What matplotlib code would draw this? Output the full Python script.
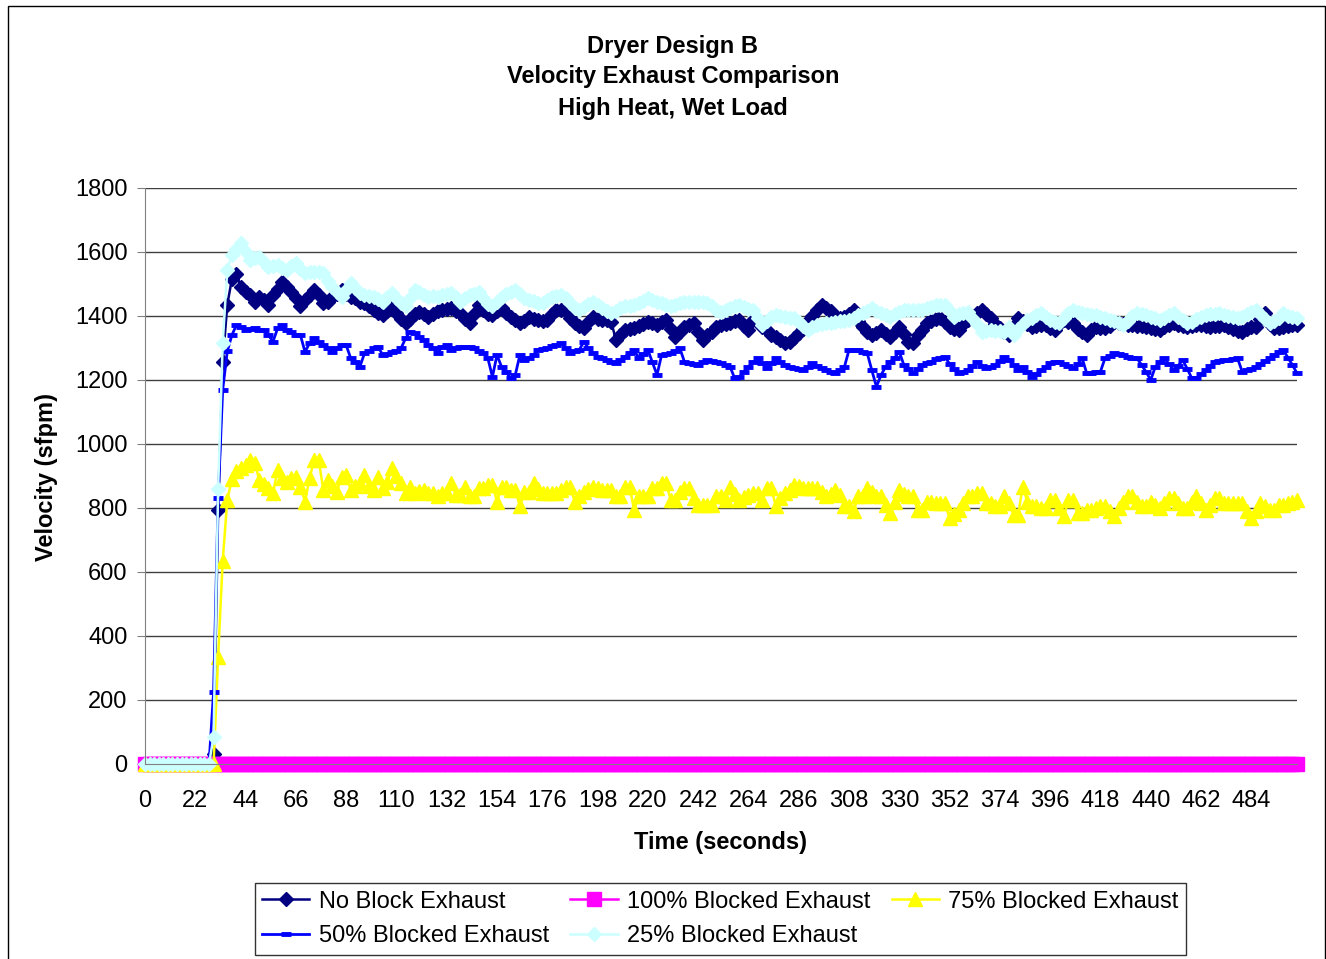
import numpy as np
import matplotlib
matplotlib.use("Agg")
import matplotlib.pyplot as plt
from matplotlib.patches import Rectangle

plt.rcParams['font.family'] = ['Liberation Sans', 'DejaVu Sans']

# velocity (sfpm) read every 2 seconds, one row = 20 seconds
no_block = [
    0, 0, 0, 0, 0, 0, 0, 0, 0, 0,
    0, 0, 0, 0, 0, 30, 795, 1255, 1435, 1515,
    1530, 1490, 1475, 1465, 1445, 1460, 1450, 1435, 1465, 1485,
    1505, 1490, 1476, 1455, 1430, 1450, 1466, 1480, 1465, 1440,
    1445, 1460, 1470, 1481, 1470, 1460, 1455, 1445, 1440, 1430,
    1420, 1410, 1403, 1415, 1430, 1410, 1390, 1377, 1390, 1405,
    1413, 1405, 1398, 1405, 1415, 1419, 1422, 1424, 1415, 1408,
    1390, 1377, 1405, 1434, 1420, 1405, 1403, 1415, 1424, 1410,
    1398, 1388, 1377, 1385, 1398, 1392, 1388, 1385, 1388, 1405,
    1419, 1420, 1415, 1395, 1377, 1368, 1361, 1380, 1398, 1392,
    1388, 1386, 1382, 1325, 1340, 1356, 1358, 1361, 1368, 1375,
    1382, 1378, 1372, 1380, 1388, 1360, 1335, 1350, 1367, 1372,
    1377, 1350, 1325, 1340, 1350, 1365, 1372, 1375, 1377, 1383,
    1388, 1370, 1356, 1388, 1380, 1367, 1355, 1340, 1333, 1325,
    1315, 1318, 1330, 1346, 1360, 1385, 1400, 1420, 1434, 1425,
    1415, 1400, 1393, 1396, 1405, 1419, 1385, 1365, 1350, 1340,
    1348, 1356, 1345, 1335, 1350, 1367, 1345, 1320, 1315, 1340,
    1356, 1377, 1383, 1390, 1393, 1380, 1367, 1360, 1356, 1375,
    1388, 1400, 1410, 1419, 1405, 1393, 1375, 1361, 1350, 1342,
    1370, 1393, 1385, 1375, 1367, 1370, 1372, 1372, 1362, 1356,
    1375, 1388, 1382, 1377, 1360, 1350, 1340, 1355, 1367, 1362,
    1361, 1370, 1382, 1378, 1375, 1372, 1372, 1370, 1368, 1367,
    1362, 1358, 1356, 1365, 1372, 1377, 1372, 1368, 1367, 1370,
    1372, 1372, 1370, 1367, 1368, 1370, 1372, 1365, 1358, 1352,
    1351, 1358, 1365, 1367, 1390, 1408, 1375, 1361, 1364, 1367,
    1370, 1372, 1372,
]

blocked_25 = [
    0, 0, 0, 0, 0, 0, 0, 0, 0, 0,
    0, 0, 0, 0, 0, 85, 860, 1315, 1545, 1590,
    1610, 1627, 1600, 1575, 1580, 1585, 1570, 1554, 1555, 1559,
    1550, 1544, 1555, 1565, 1548, 1533, 1536, 1539, 1536, 1533,
    1510, 1490, 1475, 1460, 1480, 1502, 1488, 1471, 1465, 1462,
    1460, 1452, 1445, 1458, 1471, 1455, 1440, 1430, 1455, 1481,
    1475, 1465, 1460, 1462, 1460, 1465, 1468, 1471, 1460, 1445,
    1455, 1465, 1470, 1476, 1455, 1438, 1430, 1445, 1460, 1468,
    1475, 1481, 1470, 1455, 1450, 1446, 1442, 1440, 1450, 1458,
    1462, 1466, 1455, 1440, 1425, 1419, 1428, 1437, 1445, 1435,
    1425, 1415, 1408, 1415, 1425, 1430, 1432, 1434, 1440, 1448,
    1455, 1450, 1445, 1440, 1435, 1430, 1435, 1440, 1445, 1445,
    1445, 1445, 1445, 1440, 1430, 1420, 1413, 1419, 1425, 1430,
    1434, 1428, 1422, 1419, 1395, 1372, 1385, 1398, 1403, 1400,
    1397, 1395, 1393, 1380, 1368, 1356, 1365, 1372, 1375, 1377,
    1377, 1380, 1383, 1385, 1388, 1395, 1402, 1408, 1415, 1424,
    1415, 1408, 1402, 1398, 1405, 1412, 1419, 1419, 1418, 1419,
    1419, 1424, 1428, 1434, 1434, 1434, 1416, 1398, 1405, 1410,
    1413, 1395, 1375, 1351, 1354, 1356, 1354, 1352, 1351, 1367,
    1340, 1360, 1375, 1388, 1395, 1402, 1408, 1398, 1388, 1380,
    1377, 1395, 1410, 1419, 1413, 1408, 1406, 1404, 1403, 1398,
    1393, 1388, 1383, 1378, 1372, 1385, 1400, 1408, 1405, 1403,
    1398, 1393, 1388, 1395, 1402, 1408, 1398, 1388, 1377, 1382,
    1390, 1398, 1403, 1405, 1406, 1408, 1404, 1400, 1396, 1393,
    1398, 1405, 1412, 1419, 1405, 1390, 1377, 1385, 1395, 1408,
    1400, 1396, 1393,
]

blocked_50 = [
    0, 0, 0, 0, 0, 0, 0, 0, 0, 0,
    0, 0, 0, 0, 0, 225, 830, 1170, 1290, 1340,
    1372, 1365, 1356, 1360, 1361, 1356, 1356, 1340, 1320, 1361,
    1372, 1356, 1350, 1340, 1340, 1288, 1315, 1330, 1320, 1309,
    1299, 1288, 1300, 1309, 1309, 1268, 1255, 1241, 1283, 1290,
    1299, 1304, 1278, 1280, 1288, 1290, 1299, 1330, 1351, 1346,
    1335, 1325, 1309, 1300, 1283, 1304, 1309, 1294, 1300, 1304,
    1304, 1302, 1299, 1290, 1283, 1268, 1210, 1278, 1241, 1225,
    1205, 1216, 1278, 1262, 1270, 1278, 1294, 1296, 1299, 1305,
    1310, 1315, 1300, 1283, 1290, 1294, 1320, 1299, 1285, 1273,
    1268, 1262, 1257, 1252, 1262, 1273, 1285, 1294, 1268, 1280,
    1294, 1255, 1216, 1278, 1280, 1283, 1291, 1299, 1257, 1252,
    1250, 1247, 1255, 1262, 1260, 1257, 1252, 1247, 1241, 1205,
    1210, 1225, 1241, 1255, 1268, 1252, 1236, 1252, 1268, 1255,
    1247, 1241, 1236, 1234, 1231, 1240, 1252, 1244, 1236, 1230,
    1225, 1221, 1230, 1241, 1294, 1294, 1294, 1288, 1283, 1230,
    1179, 1215, 1241, 1257, 1270, 1288, 1247, 1235, 1221, 1234,
    1247, 1252, 1257, 1265, 1270, 1273, 1250, 1235, 1221, 1226,
    1231, 1244, 1257, 1245, 1236, 1241, 1247, 1260, 1273, 1262,
    1247, 1231, 1241, 1225, 1210, 1220, 1231, 1241, 1252, 1255,
    1257, 1250, 1243, 1236, 1250, 1268, 1221, 1222, 1224, 1226,
    1268, 1275, 1283, 1280, 1277, 1273, 1270, 1268, 1247, 1225,
    1200, 1241, 1255, 1268, 1250, 1231, 1245, 1262, 1235, 1205,
    1205, 1218, 1231, 1244, 1257, 1260, 1262, 1264, 1266, 1268,
    1226, 1230, 1235, 1241, 1250, 1259, 1268, 1277, 1286, 1294,
    1270, 1247, 1221,
]

blocked_75 = [
    0, 0, 0, 0, 0, 0, 0, 0, 0, 0,
    0, 0, 0, 0, 0, 0, 335, 635, 825, 890,
    915, 925, 935, 950, 940, 888, 875, 862, 846, 919,
    893, 880, 895, 898, 867, 820, 893, 950, 950, 857,
    888, 870, 851, 898, 903, 857, 870, 877, 903, 870,
    857, 898, 862, 880, 924, 900, 877, 846, 867, 846,
    852, 857, 846, 846, 836, 846, 846, 877, 841, 841,
    867, 836, 836, 862, 862, 872, 872, 820, 867, 867,
    857, 857, 805, 851, 851, 877, 860, 846, 846, 846,
    846, 855, 867, 867, 820, 836, 851, 860, 867, 862,
    857, 857, 857, 836, 836, 867, 867, 794, 836, 836,
    836, 862, 862, 877, 877, 825, 825, 850, 862, 862,
    830, 810, 810, 810, 810, 836, 836, 825, 867, 845,
    825, 835, 841, 846, 846, 825, 862, 862, 805, 830,
    846, 855, 872, 868, 862, 862, 862, 862, 850, 836,
    845, 857, 840, 805, 805, 790, 836, 836, 862, 850,
    836, 836, 810, 784, 820, 857, 845, 836, 836, 794,
    794, 820, 820, 815, 815, 815, 768, 780, 794, 815,
    836, 836, 846, 846, 815, 815, 805, 805, 836, 815,
    779, 779, 867, 820, 805, 805, 799, 799, 825, 825,
    800, 774, 825, 825, 784, 784, 794, 794, 800, 805,
    805, 790, 774, 800, 820, 836, 836, 820, 805, 805,
    820, 810, 799, 815, 830, 830, 815, 799, 799, 820,
    836, 815, 794, 810, 830, 830, 815, 815, 815, 815,
    815, 790, 768, 790, 815, 805, 794, 794, 810, 810,
    815, 820, 825,
]

blocked_100 = [0] * len(no_block)

time_s = np.arange(len(no_block)) * 2
x_ticks = list(range(0, 485, 22))
y_ticks = list(range(0, 1801, 200))

fig = plt.figure(figsize=(13.26, 9.59), dpi=100)
ax = fig.add_axes([0.10935, 0.20334, 0.86878, 0.60063])

series = [
    (no_block, "No Block Exhaust", "#000080", "D", 7.0, 1.0, 1.8),
    (blocked_100, "100% Blocked Exhaust", "#FF00FF", "s", 10.0, 1.0, 1.8),
    (blocked_75, "75% Blocked Exhaust", "#FFFF00", "^", 9.5, 1.0, 1.8),
    (blocked_50, "50% Blocked Exhaust", "#0000FF", "_", 6.5, 3.5, 2.0),
    (blocked_25, "25% Blocked Exhaust", "#CCFFFF", "D", 7.0, 1.0, 1.8),
]
handles = {}
for values, name, color, marker, ms, mew, lw in series:
    line, = ax.plot(time_s, values, color=color, lw=lw, marker=marker,
                    ms=ms, mew=mew, mec=color, mfc=color, label=name,
                    clip_on=False)
    handles[name] = line

ax.set_xlim(0, 504)
ax.set_ylim(0, 1800)
ax.set_xticks(x_ticks)
ax.set_yticks(y_ticks)
ax.tick_params(axis='x', labelsize=17, length=5, pad=13.5, color='#808080')
ax.tick_params(axis='y', labelsize=17, length=5.5, pad=7, color='#808080')
ax.yaxis.grid(True, color='#404040', lw=1.0)
ax.set_axisbelow(True)
for side in ['top', 'right']:
    ax.spines[side].set_visible(False)
for side in ['left', 'bottom']:
    ax.spines[side].set_color('#808080')

title_lines = ["Dryer Design B", "Velocity Exhaust Comparison",
               "High Heat, Wet Load"]
for row, text in enumerate(title_lines):
    fig.text(0.5075, 1 - (46 + 31 * row) / 959, text, ha='center',
             va='center', fontsize=17, fontweight='bold')
fig.text(721 / 1326, 1 - 842 / 959, "Time (seconds)", ha='center',
         va='center', fontsize=17, fontweight='bold')
fig.text(47 / 1326, 1 - 477 / 959, "Velocity (sfpm)", ha='center',
         va='center', rotation=90, fontsize=17, fontweight='bold')

order = ["No Block Exhaust", "50% Blocked Exhaust", "100% Blocked Exhaust",
         "25% Blocked Exhaust", "75% Blocked Exhaust"]
leg = fig.legend([handles[n] for n in order], order, loc='center',
                 bbox_to_anchor=(720.5 / 1326, 1 - 919 / 959), ncol=3,
                 fontsize=17, frameon=True, fancybox=False, numpoints=1,
                 handlelength=2.0, handletextpad=0.4, columnspacing=0.9,
                 labelspacing=0.55, borderpad=0.3)
leg.get_frame().set_edgecolor('black')
leg.get_frame().set_linewidth(1.0)

fig.patches.append(Rectangle((8 / 1326, -0.01), 1317 / 1326, 1 - 6 / 959 + 0.01,
                             transform=fig.transFigure, fill=False,
                             edgecolor='black', lw=1.0))

fig.savefig("out.png", dpi=100)
